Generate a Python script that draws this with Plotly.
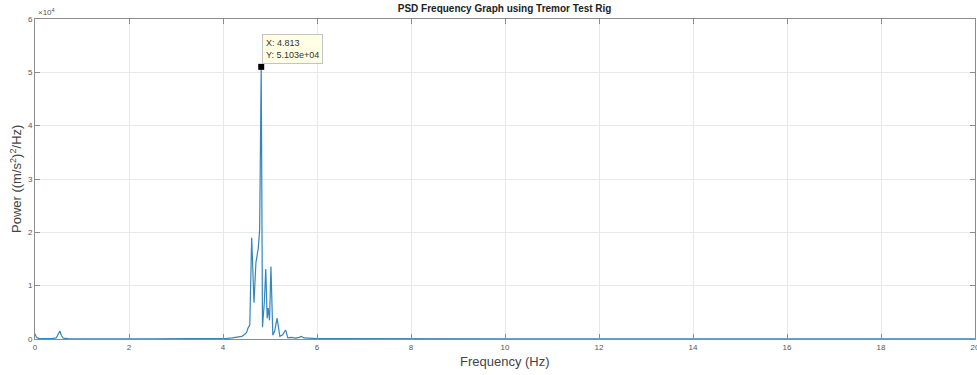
import plotly.graph_objects as go

# Frequency (Hz) and PSD power values
freq = [0.0, 0.03, 0.08, 0.15, 0.25, 0.35, 0.45, 0.50, 0.53, 0.56, 0.60, 0.70, 0.9,
        1.2, 1.6, 2.0, 2.5, 3.0, 3.5, 3.8, 4.0, 4.1, 4.2, 4.3, 4.35, 4.4, 4.45,
        4.5, 4.53, 4.57, 4.61, 4.66, 4.70, 4.75, 4.78, 4.813, 4.84, 4.88,
        4.91, 4.94, 4.96, 4.99, 5.02, 5.06, 5.10, 5.15, 5.21, 5.27, 5.33,
        5.38, 5.45, 5.55, 5.62, 5.67, 5.72, 5.80, 5.9, 6.0, 6.3, 6.6, 7.0,
        7.5, 8.0, 9.0, 10.0, 11.0, 12.0, 13.0, 14.0, 15.0, 16.0, 17.0, 18.0,
        19.0, 20.0]
power = [1000, 300, 80, 60, 50, 80, 200, 900, 1500, 700, 150, 60, 40,
         40, 30, 40, 30, 30, 40, 60, 80, 120, 200, 300, 400, 500, 800,
         1200, 2000, 2600, 19000, 6800, 14300, 17000, 20500, 51030, 2200, 7000,
         13100, 3900, 5800, 3500, 13600, 700, 1500, 3900, 500, 800, 1700,
         200, 300, 150, 300, 500, 200, 150, 100, 80, 60, 50, 40,
         40, 30, 30, 30, 30, 30, 20, 30, 20, 20, 20, 20,
         20, 20]

x_ticks = [0, 2, 4, 6, 8, 10, 12, 14, 16, 18, 20]
y_ticks = [0, 10000, 20000, 30000, 40000, 50000, 60000]
y_tick_labels = ["0", "1", "2", "3", "4", "5", "6"]

peak_x = 4.813
peak_y = 51030

axis_col = "#8c8c8c"
txt_col = "#555555"
FONT = "Arial, Liberation Sans, sans-serif"

fig = go.Figure()
fig.add_trace(go.Scatter(x=freq, y=power, mode="lines",
                         line=dict(color="#3385bb", width=1.2),
                         showlegend=False, hoverinfo="skip"))
fig.add_trace(go.Scatter(x=[peak_x], y=[peak_y], mode="markers",
                         marker=dict(symbol="square", size=6, color="black"),
                         showlegend=False, hoverinfo="skip"))

fig.add_annotation(x=peak_x, y=peak_y, xref="x", yref="y",
                   text="X: 4.813<br>Y: 5.103e+04", showarrow=False,
                   xanchor="left", yanchor="bottom", align="left",
                   xshift=1, yshift=3,
                   font=dict(family=FONT, size=9, color="#333333"),
                   bgcolor="#ffffe6", bordercolor="#c4c4c4", borderwidth=1, borderpad=3)

fig.add_annotation(x=0, y=1, xref="paper", yref="paper",
                   text="×10<sup>4</sup>", showarrow=False,
                   xanchor="left", yanchor="bottom", xshift=1, yshift=0,
                   font=dict(family=FONT, size=8, color=txt_col))

# axis titles
fig.add_annotation(x=0.5, y=0, xref="paper", yref="paper",
                   text="Frequency (Hz)", showarrow=False,
                   xanchor="center", yanchor="top", yshift=-13,
                   font=dict(family=FONT, size=13, color="#444444"))
fig.add_annotation(x=0, y=0.5, xref="paper", yref="paper",
                   text="Power ((m/s<sup>2</sup>)<sup>2</sup>/Hz)", showarrow=False,
                   textangle=-90, xanchor="right", yanchor="middle", xshift=-9,
                   font=dict(family=FONT, size=13, color="#444444"))

fig.update_layout(
    width=977, height=375,
    margin=dict(l=35, r=2, t=19, b=36, autoexpand=False),
    paper_bgcolor="white", plot_bgcolor="white",
    title=dict(text="<b>PSD Frequency Graph using Tremor Test Rig</b>",
               x=0.5165, xanchor="center", y=0.988, yanchor="top",
               font=dict(family=FONT, size=10, color="#222222")),
    font=dict(family=FONT, color=txt_col),
    xaxis=dict(range=[0, 20], tickvals=x_ticks, ticks="inside", ticklen=5,
               tickcolor=axis_col, showline=True, linecolor=axis_col, linewidth=1,
               mirror="ticks", showgrid=True, gridcolor="#e8e8e8", zeroline=False,
               automargin=False, ticklabeloverflow="allow",
               tickfont=dict(size=8, color=txt_col)),
    yaxis=dict(range=[0, 60000], tickvals=y_ticks, ticktext=y_tick_labels,
               ticks="inside", ticklen=5, tickcolor=axis_col, showline=True,
               linecolor=axis_col, linewidth=1, mirror="ticks", showgrid=True,
               gridcolor="#e8e8e8", zeroline=False, automargin=False,
               tickfont=dict(size=8, color=txt_col)),
)

fig.write_html("out.html", config={"displayModeBar": False},
               post_script="document.body.style.margin='0px';document.body.style.overflow='hidden';")
